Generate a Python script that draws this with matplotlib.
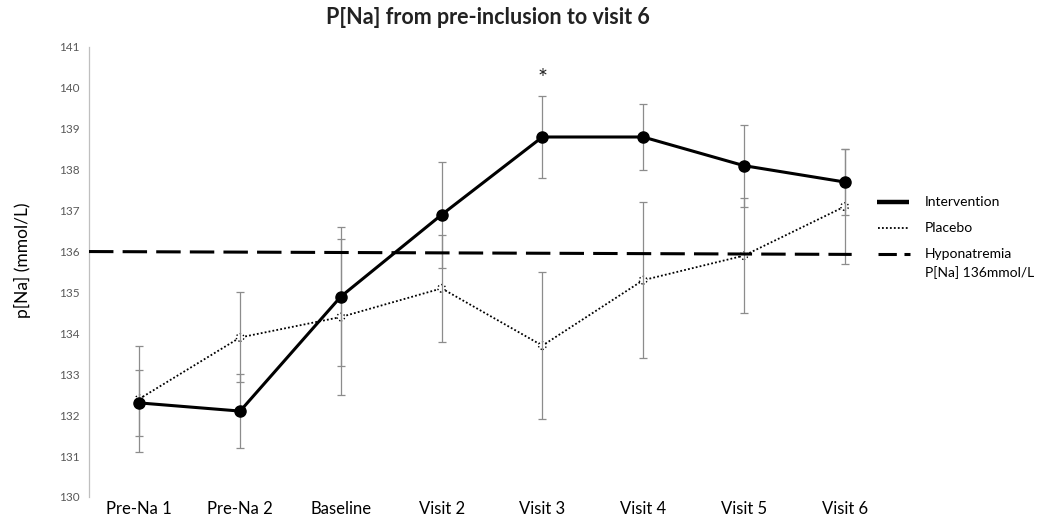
import matplotlib
matplotlib.use("Agg")
import matplotlib.pyplot as plt
from matplotlib.lines import Line2D

plt.rcParams['font.family'] = ['Lato', 'DejaVu Sans']

categories = ["Pre-Na 1", "Pre-Na 2", "Baseline", "Visit 2", "Visit 3", "Visit 4", "Visit 5", "Visit 6"]
intervention = [132.3, 132.1, 134.9, 136.9, 138.8, 138.8, 138.1, 137.7]
intervention_err = [0.8, 0.9, 1.7, 1.3, 1.0, 0.8, 1.0, 0.8]
placebo = [132.4, 133.9, 134.4, 135.1, 133.7, 135.3, 135.9, 137.1]
placebo_err = [1.3, 1.1, 1.9, 1.3, 1.8, 1.9, 1.4, 1.4]
hypo_x = [-0.5, 7.07]
hypo_y = [136.0, 135.93]
star_pos = (4, 140.22)
yticks = list(range(130, 142))

W, H = 1038, 516
fig = plt.figure(figsize=(W / 100, H / 100), dpi=100)
ax = fig.add_axes([89 / W, 1 - 497 / H, 806 / W, 450 / H])

x = list(range(len(categories)))

ax.errorbar(x, placebo, yerr=placebo_err, fmt='none', ecolor='#8c8c8c',
            elinewidth=0.9, capsize=3, capthick=0.9, zorder=3)
ax.plot(x, placebo, color='black', lw=1.3, ls=(0, (1, 1.2)), zorder=2)
ax.scatter(x, placebo, s=30, facecolors='white', edgecolors='black',
           linewidths=1.0, linestyles=':', zorder=2.5)

ax.errorbar(x, intervention, yerr=intervention_err, fmt='none', ecolor='#8c8c8c',
            elinewidth=0.9, capsize=3, capthick=0.9, zorder=3)
ax.plot(x, intervention, color='black', lw=2.2, marker='o', markersize=8,
        zorder=5)

ax.plot(hypo_x, hypo_y, color='black', lw=2.2, ls=(0, (8, 3)), zorder=4,
        solid_capstyle='butt', dash_capstyle='butt')

ax.text(star_pos[0], star_pos[1], "*", ha='center', va='center', fontsize=17,
        color='#222222')

ax.set_xlim(-0.5, 7.5)
ax.set_ylim(130, 141)
ax.set_yticks(yticks)
ax.set_yticklabels([str(v) for v in yticks], fontsize=8.5, color='#595959')
ax.set_xticks(x)
ax.set_xticklabels(categories, fontsize=12, color='black')
ax.tick_params(axis='y', length=0, pad=7)
ax.tick_params(axis='x', length=0, pad=3)
for s in ['top', 'right', 'bottom']:
    ax.spines[s].set_visible(False)
ax.spines['left'].set_color('#bfbfbf')
ax.spines['left'].set_linewidth(0.9)

fig.text(488 / W, 1 - 17 / H, "P[Na] from pre-inclusion to visit 6", ha='center',
         va='center', fontsize=15.5, fontweight='bold', color='#222222')
fig.text(22 / W, 1 - 260 / H, "p[Na] (mmol/L)", rotation=90, ha='center',
         va='center', fontsize=12.5, color='black')

# legend (manual, figure coordinates)
def fx(px):
    return px / W

def fy(py):
    return 1 - py / H

fig.add_artist(Line2D([fx(877), fx(909)], [fy(202), fy(202)], color='black', lw=3.2,
                      transform=fig.transFigure, solid_capstyle='butt'))
fig.add_artist(Line2D([fx(878), fx(909)], [fy(228), fy(228)], color='black', lw=1.3,
                      ls=(0, (1, 1.2)), transform=fig.transFigure))
fig.add_artist(Line2D([fx(878), fx(910)], [fy(254), fy(254)], color='black', lw=2.2,
                      ls=(0, (6, 2.5)), transform=fig.transFigure, dash_capstyle='butt'))
fs = 10
fig.text(fx(925), fy(202), "Intervention", ha='left', va='center', fontsize=fs)
fig.text(fx(925), fy(228), "Placebo", ha='left', va='center', fontsize=fs)
fig.text(fx(925), fy(254), "Hyponatremia", ha='left', va='center', fontsize=fs)
fig.text(fx(925), fy(273), "P[Na] 136mmol/L", ha='left', va='center', fontsize=fs)

fig.savefig("out.png", dpi=100)
